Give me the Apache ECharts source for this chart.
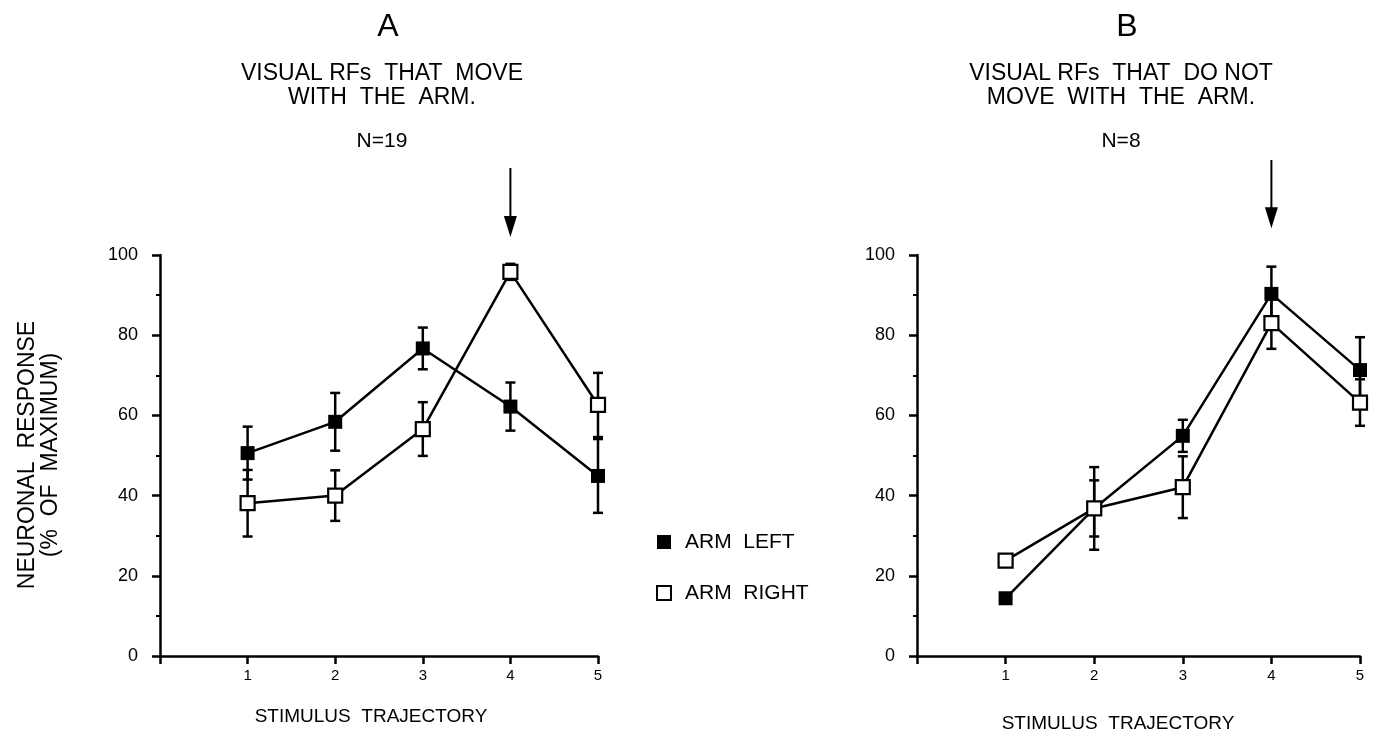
<!DOCTYPE html>
<html>
<head>
<meta charset="utf-8">
<script src="https://cdn.jsdelivr.net/npm/echarts@6/dist/echarts.min.js"></script>
<style>
html,body{margin:0;padding:0;background:#fff;}
#chart{width:1373px;height:739px;}
</style>
</head>
<body>
<div id="chart"></div>
<script>
// ---- data ----
const trajectories = [1, 2, 3, 4, 5];
const yTicks = [0, 20, 40, 60, 80, 100];

const aArmLeft     = [50.6, 58.4, 76.7, 62.2, 44.9];
const aArmLeftErr  = [6.6, 7.2, 5.2, 6.0, 9.2];
const aArmRight    = [38.1, 40.0, 56.6, 95.8, 62.6];
const aArmRightErr = [8.3, 6.3, 6.7, 2.0, 8.0];

const bArmLeft     = [14.4, 36.8, 54.9, 90.3, 71.3];
const bArmLeftErr  = [0, 10.3, 4.0, 6.8, 8.2];
const bArmRight    = [23.8, 36.8, 42.1, 83.0, 63.2];
const bArmRightErr = [0, 7.0, 7.7, 6.4, 5.8];

// arrow annotations: [x, top value, tip value]
const aArrow = [[4, 121.7, 104.5]];
const bArrow = [[4, 123.7, 106.7]];

const panelTitles = ['A', 'B'];
const panelSub = [['VISUAL RFs  THAT  MOVE', 'WITH  THE  ARM.'], ['VISUAL RFs  THAT  DO NOT', 'MOVE  WITH  THE  ARM.']];
const panelN = ['N=19', 'N=8'];
const legendNames = ['ARM  LEFT', 'ARM  RIGHT'];

// ---- helpers ----
const FONT = '"Liberation Sans", Arial, Helvetica, sans-serif';
const LW = 2.5;
function pts(xs, ys) { return xs.map((x, i) => [x, ys[i]]); }
function errData(xs, ys, es) { return xs.map((x, i) => [x, ys[i] - es[i], ys[i] + es[i]]).filter((d, i) => es[i] > 0); }

function errSeries(idx, data) {
  return {
    type: 'custom', xAxisIndex: idx, yAxisIndex: idx, z: 2, silent: true,
    encode: { x: 0, y: [1, 2] },
    data: data,
    renderItem: function (params, api) {
      const x = api.value(0);
      const lo = api.coord([x, api.value(1)]);
      const hi = api.coord([x, api.value(2)]);
      const w = 5;
      const st = { stroke: '#000', lineWidth: LW };
      return { type: 'group', children: [
        { type: 'line', shape: { x1: lo[0], y1: lo[1], x2: hi[0], y2: hi[1] }, style: st },
        { type: 'line', shape: { x1: lo[0] - w, y1: lo[1], x2: lo[0] + w, y2: lo[1] }, style: st },
        { type: 'line', shape: { x1: hi[0] - w, y1: hi[1], x2: hi[0] + w, y2: hi[1] }, style: st }
      ]};
    }
  };
}
function arrowSeries(idx, data) {
  return {
    type: 'custom', xAxisIndex: idx, yAxisIndex: idx, z: 2, silent: true, clip: false,
    data: data,
    renderItem: function (params, api) {
      const x = api.value(0);
      const top = api.coord([x, api.value(1)]);
      const tip = api.coord([x, api.value(2)]);
      const h = 21, w = 6.5;
      return { type: 'group', children: [
        { type: 'line', shape: { x1: top[0], y1: top[1], x2: tip[0], y2: tip[1] - h + 2 }, style: { stroke: '#000', lineWidth: 2 } },
        { type: 'polygon', shape: { points: [[tip[0] - w, tip[1] - h], [tip[0] + w, tip[1] - h], [tip[0], tip[1]]] }, style: { fill: '#000' } }
      ]};
    }
  };
}
function lineSeries(idx, name, data, filled) {
  return {
    type: 'line', name: name, xAxisIndex: idx, yAxisIndex: idx, z: 3,
    data: data, symbol: 'rect', symbolSize: 14, showSymbol: true,
    lineStyle: { color: '#000', width: LW },
    itemStyle: filled ? { color: '#000', borderColor: '#000', borderWidth: 0 } : { color: '#fff', borderColor: '#000', borderWidth: 2.2 },
    emphasis: { disabled: true }, animation: false
  };
}
function xAxisDef(idx) {
  return {
    gridIndex: idx, type: 'value', min: 0, max: 5, interval: 1,
    axisLine: { show: true, onZero: false, lineStyle: { color: '#000', width: LW } },
    axisTick: { show: true, inside: false, length: 8, lineStyle: { color: '#000', width: LW } },
    axisLabel: { color: '#000', fontFamily: FONT, fontSize: 15, margin: 12, formatter: v => (v === 0 ? '' : String(v)) },
    splitLine: { show: false }
  };
}
function yAxisDef(idx) {
  return {
    gridIndex: idx, type: 'value', min: 0, max: 100, interval: 20,
    axisLine: { show: true, onZero: false, lineStyle: { color: '#000', width: LW } },
    axisTick: { show: true, inside: false, length: 8, lineStyle: { color: '#000', width: LW } },
    minorTick: { show: true, splitNumber: 2, length: 4, lineStyle: { color: '#000', width: 2 } },
    axisLabel: { color: '#000', fontFamily: FONT, fontSize: 18, margin: 22,
      formatter: v => (yTicks.indexOf(v) >= 0 ? String(v) : '') },
    splitLine: { show: false }
  };
}
function txt(x, y, text, size, extra) {
  return Object.assign({ type: 'text', x: x, y: y, silent: true,
    style: { text: text, fill: '#000', font: size + 'px ' + FONT, textAlign: 'center', textVerticalAlign: 'middle' } }, extra || {});
}

const centers = [382, 1121];
const graphics = [];
for (let p = 0; p < 2; p++) {
  const cx = centers[p];
  graphics.push(txt(cx + 6, 27, panelTitles[p], 32));
  graphics.push(txt(cx, 74, panelSub[p][0], 23));
  graphics.push(txt(cx, 98, panelSub[p][1], 23));
  graphics.push(txt(cx, 141, panelN[p], 21));
}
graphics.push(txt(371, 717, 'STIMULUS  TRAJECTORY', 19));
graphics.push(txt(1118, 724, 'STIMULUS  TRAJECTORY', 19));
graphics.push({ type: 'text', x: 39, y: 455, rotation: Math.PI / 2, silent: true,
  style: { text: 'NEURONAL  RESPONSE\n(%  OF  MAXIMUM)', fill: '#000', font: '23px ' + FONT,
    textAlign: 'center', textVerticalAlign: 'middle', lineHeight: 23 } });

const chart = echarts.init(document.getElementById('chart'), null, { renderer: 'canvas' });
chart.setOption({
  backgroundColor: '#fff',
  animation: false,
  grid: [
    { left: 160, top: 255, width: 438, height: 401 },
    { left: 917, top: 255, width: 443, height: 401 }
  ],
  xAxis: [xAxisDef(0), xAxisDef(1)],
  yAxis: [yAxisDef(0), yAxisDef(1)],
  legend: {
    orient: 'vertical', left: 651, top: 525, itemWidth: 14, itemHeight: 14, itemGap: 27,
    icon: 'rect', selectedMode: false,
    textStyle: { color: '#000', fontFamily: FONT, fontSize: 21, lineHeight: 24, padding: [0, 0, 0, 9] },
    data: [
      { name: legendNames[0], itemStyle: { color: '#000', borderWidth: 0 } },
      { name: legendNames[1], itemStyle: { color: '#fff', borderColor: '#000', borderWidth: 2 } }
    ]
  },
  graphic: graphics,
  series: [
    errSeries(0, errData(trajectories, aArmLeft, aArmLeftErr)),
    errSeries(0, errData(trajectories, aArmRight, aArmRightErr)),
    lineSeries(0, legendNames[0], pts(trajectories, aArmLeft), true),
    lineSeries(0, legendNames[1], pts(trajectories, aArmRight), false),
    arrowSeries(0, aArrow),
    errSeries(1, errData(trajectories, bArmLeft, bArmLeftErr)),
    errSeries(1, errData(trajectories, bArmRight, bArmRightErr)),
    lineSeries(1, legendNames[0], pts(trajectories, bArmLeft), true),
    lineSeries(1, legendNames[1], pts(trajectories, bArmRight), false),
    arrowSeries(1, bArrow)
  ]
});
</script>
</body>
</html>
